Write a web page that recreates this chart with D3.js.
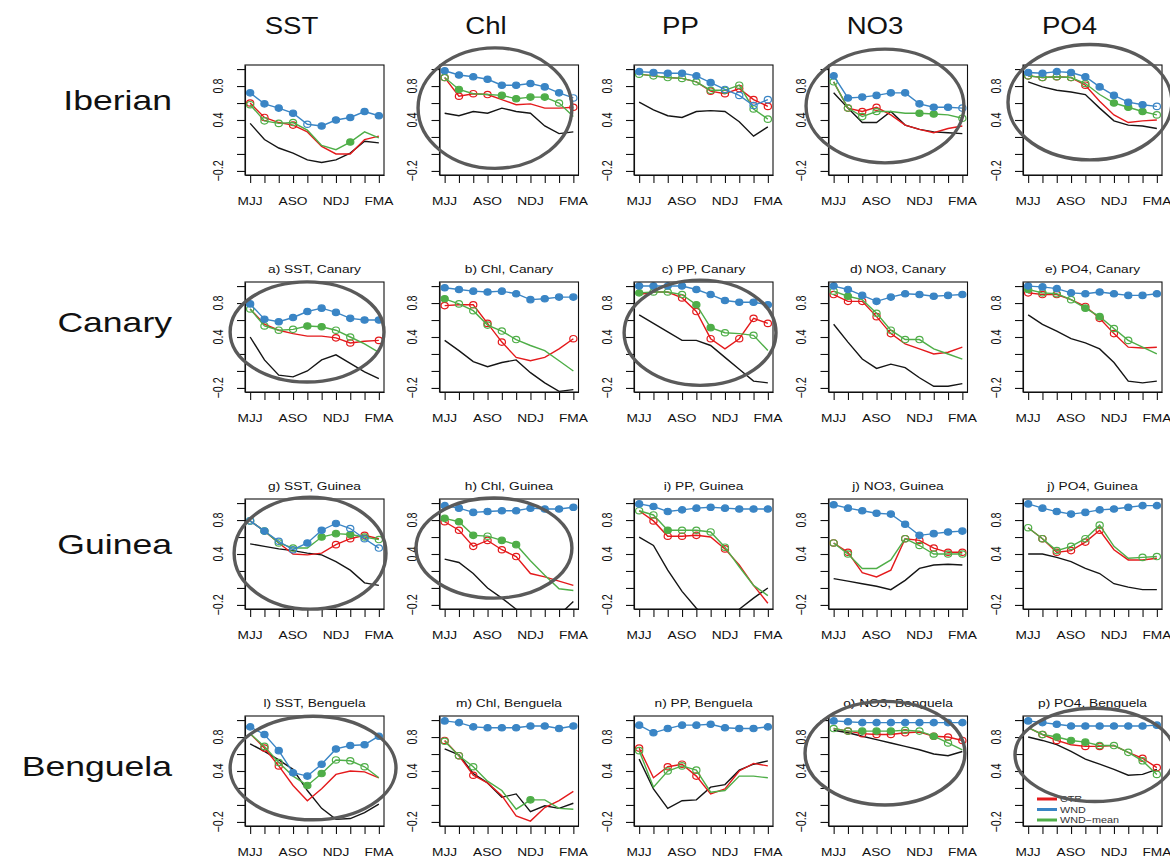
<!DOCTYPE html>
<html>
<head>
<meta charset="utf-8">
<script src="https://cdn.jsdelivr.net/npm/d3@7"></script>
<style>
  body { margin: 0; background: #fff; }
  svg text { font-family: "Liberation Sans", Arial, Helvetica, sans-serif; }
</style>
</head>
<body>
<svg id="chart" width="1170" height="862"></svg>
<script>
// regions (rows) and variables (columns)
var regions = ["Iberian", "Canary", "Guinea", "Benguela"];
var variables = ["SST", "Chl", "PP", "NO3", "PO4"];
var seasonLabels = ["MJJ", "", "", "ASO", "", "", "NDJ", "", "", "FMA"];
var yTicks = [-0.2, 0, 0.2, 0.4, 0.6, 0.8, 1.0];
var yLabelled = [-0.2, 0.4, 0.8];
var panelTitles = [
  [null, null, null, null, null],
  ["a) SST, Canary", "b) Chl, Canary", "c) PP, Canary", "d) NO3, Canary", "e) PO4, Canary"],
  ["g) SST, Guinea", "h) Chl, Guinea", "i) PP, Guinea", "j) NO3, Guinea", "j) PO4, Guinea"],
  ["l) SST, Benguela", "m) Chl, Benguela", "n) PP, Benguela", "o) NO3, Benguela", "p) PO4, Benguela"]
];
var legendNames = ["CTR", "WND", "WND\u2212mean"];

// series, one array per region, columns SST, Chl, PP, NO3, PO4
// marks: 0 none, 1 open circle, 2 filled circle
var ctrIberian = [
  [0.60, 0.43, 0.37, 0.34, 0.26, 0.09, 0.00, 0.00, 0.17, 0.21],
  [0.90, 0.68, 0.71, 0.70, 0.64, 0.58, 0.59, 0.54, 0.54, 0.55],
  [0.94, 0.92, 0.90, 0.89, 0.85, 0.74, 0.71, 0.77, 0.64, 0.56],
  [0.85, 0.54, 0.50, 0.55, 0.46, 0.34, 0.29, 0.25, 0.30, 0.33],
  [0.92, 0.90, 0.91, 0.90, 0.81, 0.62, 0.46, 0.37, 0.39, 0.40]
];
var ctrMarksIberian = [
  [1,1,0,1,0,0,0,0,0,0],
  [1,1,1,1,0,0,0,0,0,1],
  [0,0,0,0,0,1,1,1,1,1],
  [0,1,1,1,0,0,0,0,0,0],
  [1,1,1,1,1,0,0,0,0,0]
];
var wndIberian = [
  [0.72, 0.59, 0.54, 0.48, 0.35, 0.33, 0.40, 0.43, 0.50, 0.45],
  [0.98, 0.93, 0.91, 0.88, 0.81, 0.81, 0.83, 0.79, 0.72, 0.66],
  [0.97, 0.96, 0.95, 0.95, 0.92, 0.84, 0.76, 0.69, 0.57, 0.64],
  [0.92, 0.66, 0.67, 0.69, 0.72, 0.72, 0.59, 0.55, 0.55, 0.54],
  [0.96, 0.95, 0.97, 0.96, 0.91, 0.79, 0.69, 0.61, 0.58, 0.56]
];
var wndMarksIberian = [
  [2,2,2,2,1,2,2,2,2,2],
  [2,2,2,2,2,2,2,2,2,1],
  [2,2,2,2,2,2,1,1,1,1],
  [2,2,2,2,2,2,2,2,2,1],
  [2,2,2,2,2,2,2,2,2,1]
];
var meanIberian = [
  [0.58, 0.39, 0.36, 0.37, 0.28, 0.10, 0.05, 0.14, 0.26, 0.19],
  [0.90, 0.76, 0.71, 0.70, 0.69, 0.65, 0.67, 0.67, 0.60, 0.44],
  [0.94, 0.92, 0.90, 0.89, 0.85, 0.75, 0.75, 0.81, 0.53, 0.41],
  [0.85, 0.54, 0.44, 0.50, 0.50, 0.48, 0.48, 0.47, 0.46, 0.42],
  [0.92, 0.90, 0.91, 0.90, 0.83, 0.70, 0.60, 0.55, 0.50, 0.46]
];
var meanMarksIberian = [
  [1,1,1,1,0,0,0,2,0,0],
  [1,2,0,0,2,2,2,2,1,0],
  [1,1,1,1,1,1,1,1,1,1],
  [1,1,1,1,0,0,2,2,0,1],
  [1,1,1,1,1,0,2,2,2,1]
];
var blackIberian = [
  [0.36, 0.17, 0.07, 0.01, -0.07, -0.10, -0.07, 0.01, 0.15, 0.13],
  [0.48, 0.45, 0.50, 0.48, 0.54, 0.50, 0.48, 0.33, 0.24, 0.26],
  [0.61, 0.52, 0.45, 0.43, 0.50, 0.51, 0.50, 0.38, 0.21, 0.32],
  [0.72, 0.54, 0.37, 0.37, 0.50, 0.34, 0.29, 0.26, 0.25, 0.24],
  [0.85, 0.79, 0.75, 0.73, 0.70, 0.54, 0.39, 0.34, 0.33, 0.30]
];

var ctrCanary = [
  [0.73, 0.55, 0.48, 0.44, 0.41, 0.41, 0.39, 0.33, 0.35, 0.36],
  [0.77, 0.78, 0.78, 0.56, 0.34, 0.16, 0.12, 0.16, 0.26, 0.38],
  [0.90, 0.93, 0.93, 0.86, 0.70, 0.38, 0.26, 0.38, 0.62, 0.56],
  [0.90, 0.82, 0.82, 0.64, 0.44, 0.32, 0.26, 0.20, 0.22, 0.28],
  [0.92, 0.90, 0.90, 0.84, 0.76, 0.62, 0.44, 0.28, 0.27, 0.28]
];
var ctrMarksCanary = [
  [0,0,0,0,0,0,1,1,0,1],
  [1,0,1,1,1,0,0,0,0,1],
  [0,0,0,1,1,1,0,1,1,1],
  [1,1,1,1,1,0,0,0,0,0],
  [1,1,1,0,1,1,1,0,0,0]
];
var wndCanary = [
  [0.79, 0.61, 0.58, 0.63, 0.70, 0.74, 0.69, 0.62, 0.60, 0.60],
  [0.98, 0.96, 0.94, 0.93, 0.94, 0.91, 0.84, 0.85, 0.87, 0.87],
  [1.00, 1.00, 1.00, 1.00, 0.96, 0.90, 0.83, 0.81, 0.81, 0.78],
  [1.00, 0.96, 0.89, 0.82, 0.87, 0.91, 0.90, 0.88, 0.89, 0.90],
  [1.00, 0.99, 0.97, 0.92, 0.91, 0.93, 0.91, 0.89, 0.89, 0.91]
];
var wndMarksCanary = [
  [2,2,2,2,2,2,2,2,2,2],
  [2,2,2,2,2,2,2,2,2,2],
  [2,2,2,2,2,2,2,2,2,2],
  [2,2,2,2,2,2,2,2,2,2],
  [2,2,2,2,2,2,2,2,2,2]
];
var meanCanary = [
  [0.73, 0.53, 0.48, 0.49, 0.53, 0.52, 0.48, 0.40, 0.32, 0.22],
  [0.85, 0.79, 0.71, 0.54, 0.47, 0.37, 0.30, 0.24, 0.12, 0.00],
  [0.92, 0.93, 0.93, 0.90, 0.78, 0.51, 0.45, 0.44, 0.42, 0.24],
  [0.94, 0.88, 0.84, 0.68, 0.48, 0.37, 0.37, 0.26, 0.20, 0.14],
  [0.96, 0.92, 0.91, 0.84, 0.74, 0.64, 0.50, 0.36, 0.28, 0.20]
];
var meanMarksCanary = [
  [1,1,1,1,2,2,1,1,0,0],
  [2,1,1,1,1,1,0,0,0,0],
  [2,1,1,1,2,2,1,0,1,0],
  [1,2,0,1,1,1,1,0,0,0],
  [2,1,1,1,2,2,1,1,0,0]
];
var blackCanary = [
  [0.40, 0.13, -0.05, -0.07, 0.00, 0.13, 0.19, 0.09, -0.01, -0.09],
  [0.36, 0.24, 0.11, 0.05, 0.10, 0.13, -0.02, -0.14, -0.24, -0.22],
  [0.66, 0.56, 0.46, 0.36, 0.36, 0.30, 0.16, 0.02, -0.12, -0.14],
  [0.55, 0.34, 0.14, 0.03, 0.08, 0.04, -0.08, -0.18, -0.18, -0.15],
  [0.66, 0.55, 0.47, 0.38, 0.33, 0.26, 0.10, -0.12, -0.14, -0.12]
];

var ctrGuinea = [
  [0.79, 0.67, 0.53, 0.40, 0.39, 0.41, 0.51, 0.58, 0.62, 0.58],
  [0.78, 0.68, 0.49, 0.56, 0.45, 0.37, 0.17, 0.13, 0.08, 0.03],
  [0.91, 0.79, 0.61, 0.61, 0.62, 0.60, 0.46, 0.27, 0.03, -0.18],
  [0.53, 0.42, 0.18, 0.13, 0.21, 0.58, 0.56, 0.47, 0.42, 0.42],
  [0.71, 0.58, 0.42, 0.44, 0.54, 0.68, 0.45, 0.33, 0.33, 0.35]
];
var ctrMarksGuinea = [
  [0,0,0,0,0,0,1,1,1,0],
  [1,1,1,1,1,1,0,0,0,0],
  [0,1,1,1,1,0,1,0,0,0],
  [1,1,0,0,0,1,1,1,1,1],
  [0,1,1,1,1,1,0,0,0,0]
];
var wndGuinea = [
  [0.79, 0.67, 0.55, 0.45, 0.53, 0.68, 0.76, 0.70, 0.58, 0.47],
  [0.97, 0.94, 0.89, 0.90, 0.91, 0.91, 0.94, 0.93, 0.93, 0.95],
  [0.99, 0.96, 0.90, 0.92, 0.94, 0.95, 0.94, 0.93, 0.93, 0.93],
  [0.98, 0.94, 0.91, 0.88, 0.87, 0.75, 0.62, 0.64, 0.66, 0.67],
  [0.99, 0.94, 0.90, 0.87, 0.89, 0.92, 0.93, 0.95, 0.97, 0.97]
];
var wndMarksGuinea = [
  [1,2,1,1,2,2,2,1,1,1],
  [2,2,2,2,2,2,2,2,2,2],
  [2,2,2,2,2,2,2,2,2,2],
  [2,2,2,2,2,2,2,2,2,2],
  [2,2,2,2,2,2,2,2,2,2]
];
var meanGuinea = [
  [0.79, 0.67, 0.53, 0.47, 0.47, 0.60, 0.64, 0.63, 0.60, 0.57],
  [0.82, 0.78, 0.62, 0.61, 0.56, 0.51, 0.32, 0.15, -0.01, -0.03],
  [0.91, 0.86, 0.68, 0.68, 0.68, 0.66, 0.48, 0.25, 0.03, -0.09],
  [0.53, 0.40, 0.23, 0.23, 0.33, 0.58, 0.50, 0.40, 0.40, 0.40],
  [0.71, 0.58, 0.44, 0.49, 0.58, 0.74, 0.49, 0.35, 0.36, 0.37]
];
var meanMarksGuinea = [
  [1,2,1,1,0,2,2,2,1,1],
  [2,2,2,1,2,2,0,0,0,0],
  [1,1,2,1,1,1,1,0,0,0],
  [1,1,0,0,0,1,1,1,1,1],
  [1,1,1,1,1,1,0,0,1,1]
];
var blackGuinea = [
  [0.52, 0.49, 0.46, 0.44, 0.41, 0.39, 0.31, 0.21, 0.06, 0.03],
  [0.34, 0.30, 0.17, 0.00, -0.12, -0.25, -0.40, -0.45, -0.32, -0.16],
  [0.60, 0.50, 0.21, -0.04, -0.24, -0.40, -0.40, -0.25, -0.12, 0.00],
  [0.11, 0.08, 0.05, 0.02, -0.02, 0.09, 0.23, 0.27, 0.28, 0.27],
  [0.40, 0.40, 0.36, 0.31, 0.23, 0.17, 0.05, 0.01, -0.02, -0.02]
];

var ctrBenguela = [
  [0.84, 0.67, 0.46, 0.23, 0.05, 0.19, 0.36, 0.40, 0.39, 0.32],
  [0.76, 0.58, 0.35, 0.26, 0.11, -0.13, -0.19, -0.03, 0.05, 0.16],
  [0.67, 0.32, 0.45, 0.48, 0.34, 0.13, 0.19, 0.40, 0.49, 0.46],
  [0.90, 0.87, 0.84, 0.83, 0.83, 0.85, 0.86, 0.81, 0.80, 0.76],
  [0.91, 0.83, 0.76, 0.71, 0.69, 0.69, 0.70, 0.62, 0.55, 0.44]
];
var ctrMarksBenguela = [
  [0,1,1,0,0,0,0,0,0,0],
  [1,1,1,0,0,0,0,0,0,0],
  [1,0,1,1,1,0,0,0,0,0],
  [0,1,1,1,1,1,0,1,1,1],
  [0,1,1,0,1,1,0,0,1,1]
];
var wndBenguela = [
  [0.92, 0.83, 0.64, 0.38, 0.34, 0.48, 0.66, 0.70, 0.71, 0.81],
  [0.99, 0.97, 0.92, 0.91, 0.91, 0.91, 0.93, 0.93, 0.90, 0.93],
  [0.94, 0.85, 0.90, 0.94, 0.94, 0.95, 0.91, 0.90, 0.90, 0.92],
  [0.99, 0.98, 0.97, 0.97, 0.97, 0.97, 0.97, 0.97, 0.97, 0.97],
  [0.99, 0.97, 0.95, 0.93, 0.93, 0.93, 0.93, 0.93, 0.93, 0.94]
];
var wndMarksBenguela = [
  [2,2,2,2,2,2,2,2,2,2],
  [2,2,2,2,2,2,2,2,2,2],
  [2,2,2,2,2,2,2,2,2,2],
  [2,2,2,2,2,2,2,2,2,2],
  [2,2,2,2,2,2,2,2,2,2]
];
var meanBenguela = [
  [0.84, 0.69, 0.50, 0.34, 0.23, 0.37, 0.53, 0.52, 0.45, 0.32],
  [0.75, 0.58, 0.45, 0.28, 0.17, -0.05, 0.06, 0.06, -0.04, -0.05],
  [0.64, 0.21, 0.40, 0.46, 0.41, 0.15, 0.17, 0.34, 0.34, 0.32],
  [0.90, 0.87, 0.87, 0.87, 0.87, 0.88, 0.87, 0.81, 0.73, 0.65],
  [0.91, 0.83, 0.80, 0.76, 0.74, 0.70, 0.70, 0.62, 0.52, 0.36]
];
var meanMarksBenguela = [
  [0,1,1,0,2,2,1,1,1,0],
  [1,1,1,0,0,0,2,0,0,0],
  [1,0,1,1,1,0,0,0,0,0],
  [1,1,2,2,2,1,1,2,1,0],
  [0,1,2,2,2,1,1,1,1,1]
];
var blackBenguela = [
  [0.72, 0.63, 0.53, 0.42, 0.17, -0.04, -0.17, -0.16, -0.09, 0.01],
  [0.66, 0.59, 0.37, 0.26, 0.09, 0.13, -0.08, -0.01, -0.04, 0.02],
  [0.54, 0.19, -0.04, 0.05, 0.06, 0.21, 0.24, 0.41, 0.48, 0.52],
  [0.88, 0.85, 0.81, 0.77, 0.73, 0.69, 0.65, 0.60, 0.58, 0.63],
  [0.80, 0.76, 0.71, 0.63, 0.54, 0.48, 0.42, 0.35, 0.36, 0.42]
];

// grey ellipses drawn over some panels: [row, col, centre x (season index), centre y, radius x, radius y]
var highlights = [
  [0, 1, 4.52, 0.54, 5.38, 0.71],
  [0, 3, 4.59, 0.565, 5.52, 0.67],
  [0, 4, 5.32, 0.61, 5.73, 0.68],
  [1, 0, 4.98, 0.46, 5.38, 0.59],
  [1, 2, 5.26, 0.45, 5.31, 0.62],
  [2, 0, 5.19, 0.41, 5.31, 0.66],
  [2, 1, 4.45, 0.47, 5.45, 0.59],
  [3, 0, 5.40, 0.435, 5.80, 0.61],
  [3, 3, 4.59, 0.61, 5.59, 0.61],
  [3, 4, 5.67, 0.59, 5.59, 0.55]
];

var ctrAll = [ctrIberian, ctrCanary, ctrGuinea, ctrBenguela];
var ctrMarksAll = [ctrMarksIberian, ctrMarksCanary, ctrMarksGuinea, ctrMarksBenguela];
var wndAll = [wndIberian, wndCanary, wndGuinea, wndBenguela];
var wndMarksAll = [wndMarksIberian, wndMarksCanary, wndMarksGuinea, wndMarksBenguela];
var meanAll = [meanIberian, meanCanary, meanGuinea, meanBenguela];
var meanMarksAll = [meanMarksIberian, meanMarksCanary, meanMarksGuinea, meanMarksBenguela];
var blackAll = [blackIberian, blackCanary, blackGuinea, blackBenguela];

var colors = { ctr: "#e41a1c", wnd: "#3a85c5", mean: "#4fae48", black: "#151515" };

// layout
var boxW = 139, boxH = 110;
var SX = 1.27;  // the figure is stretched sideways, text too
function colX(c) { return 245 + c * 194.5; }
function rowY(r) { return 65 + r * 217; }

var x = d3.scaleLinear().domain([0.64, 10.36]).range([0, boxW]);
var y = d3.scaleLinear().domain([-0.248, 1.048]).range([boxH, 0]);

var svg = d3.select("#chart");

var line = d3.line()
  .x(function(d, i) { return x(i + 1); })
  .y(function(d) { return y(d); });

function stretchedText(g, tx, ty, str, size, anchor, extra) {
  return g.append("text")
    .attr("transform", "translate(" + tx + "," + ty + ") scale(" + SX + ",1)" + (extra || ""))
    .attr("text-anchor", anchor)
    .attr("font-size", size)
    .attr("fill", "#111")
    .text(str);
}

// column headers
variables.forEach(function(v, c) {
  svg.append("text")
    .attr("transform", "translate(" + (colX(c) + boxW / 2 - 23) + ",34) scale(1.15,1)")
    .attr("text-anchor", "middle")
    .attr("font-family", "Lato, 'Open Sans', sans-serif")
    .attr("font-size", 24)
    .attr("fill", "#111")
    .text(v);
});

// row labels
regions.forEach(function(name, r) {
  stretchedText(svg, 172, 100 + r * 222 + 10, name, 28, "end");
});

regions.forEach(function(name, r) {
  variables.forEach(function(v, c) {
    var g = svg.append("g").attr("transform", "translate(" + colX(c) + "," + rowY(r) + ")");
    var clipId = "clip-" + r + "-" + c;
    g.append("clipPath").attr("id", clipId)
      .append("rect").attr("width", boxW).attr("height", boxH);

    if (panelTitles[r][c]) {
      stretchedText(g, boxW / 2, -9, panelTitles[r][c], 10.8, "middle");
    }

    // axes
    g.append("g")
      .attr("class", "y axis")
      .call(d3.axisLeft(y).tickValues(yTicks).tickSize(8).tickSizeOuter(0).tickFormat(""))
      .call(function(a) { a.selectAll("line, path").attr("stroke", "#111").attr("stroke-width", 1.1); });
    g.append("g")
      .attr("class", "x axis")
      .attr("transform", "translate(0," + boxH + ")")
      .call(d3.axisBottom(x).tickValues(d3.range(1, 11)).tickSize(8).tickSizeOuter(0).tickFormat(""))
      .call(function(a) { a.selectAll("line, path").attr("stroke", "#111").attr("stroke-width", 1.1); });

    yLabelled.forEach(function(t) {
      stretchedText(g, -27, y(t), d3.format(".1f")(t), 10.8, "middle", " rotate(-90)")
        .attr("dy", "0.35em");
    });
    seasonLabels.forEach(function(s, i) {
      if (s) stretchedText(g, x(i + 1), boxH + 30, s, 10.8, "middle");
    });

    // lines
    var plot = g.append("g").attr("clip-path", "url(#" + clipId + ")");
    var series = [
      { vals: blackAll[r][c], marks: null, color: colors.black },
      { vals: ctrAll[r][c], marks: ctrMarksAll[r][c], color: colors.ctr },
      { vals: meanAll[r][c], marks: meanMarksAll[r][c], color: colors.mean },
      { vals: wndAll[r][c], marks: wndMarksAll[r][c], color: colors.wnd }
    ];
    series.forEach(function(s) {
      plot.append("path")
        .datum(s.vals)
        .attr("fill", "none")
        .attr("stroke", s.color)
        .attr("stroke-width", 1.4)
        .attr("d", line);
      if (!s.marks) return;
      plot.selectAll(null)
        .data(s.vals.map(function(v, i) { return { v: v, i: i, m: s.marks[i] }; })
          .filter(function(d) { return d.m > 0; }))
        .enter().append("ellipse")
        .attr("cx", function(d) { return x(d.i + 1); })
        .attr("cy", function(d) { return y(d.v); })
        .attr("rx", 3.6)
        .attr("ry", 3.2)
        .attr("fill", function(d) { return d.m === 2 ? s.color : "none"; })
        .attr("stroke", s.color)
        .attr("stroke-width", 1.2);
    });

    g.append("rect")
      .attr("width", boxW).attr("height", boxH)
      .attr("fill", "none").attr("stroke", "#111").attr("stroke-width", 1.1);

    // legend in the last panel
    if (r === 3 && c === 4) {
      var legColors = [colors.ctr, colors.wnd, colors.mean];
      legendNames.forEach(function(n, k) {
        var ly = 83 + k * 10.5;
        g.append("line").attr("x1", 14).attr("x2", 34).attr("y1", ly).attr("y2", ly)
          .attr("stroke", legColors[k]).attr("stroke-width", 3);
        stretchedText(g, 37, ly + 3, n, 8.5, "start").attr("fill", "#333");
      });
    }
  });
});

// grey ellipses on top
highlights.forEach(function(h) {
  var ox = colX(h[1]), oy = rowY(h[0]);
  svg.append("ellipse")
    .attr("cx", ox + x(h[2]))
    .attr("cy", oy + y(h[3]))
    .attr("rx", x(h[2] + h[4]) - x(h[2]))
    .attr("ry", y(h[3] - h[5]) - y(h[3]))
    .attr("fill", "none")
    .attr("stroke", "#5a5a5a")
    .attr("stroke-width", 3.4);
});
</script>
</body>
</html>
